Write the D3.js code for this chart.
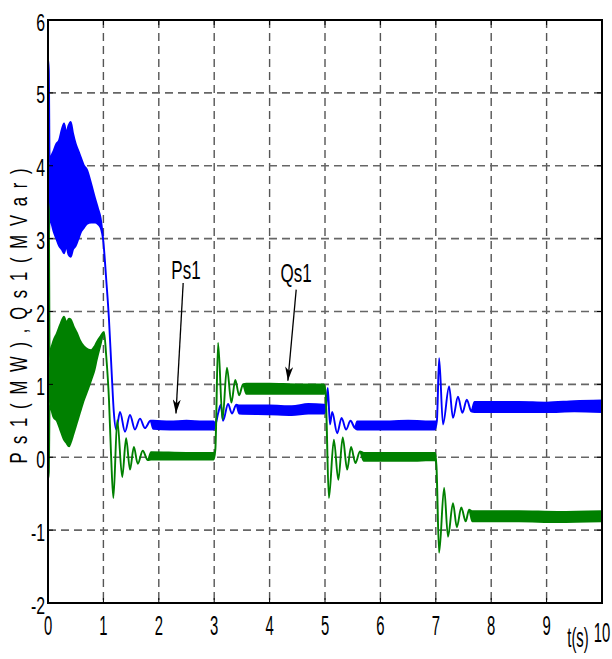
<!DOCTYPE html>
<html>
<head>
<meta charset="utf-8">
<script src="https://cdn.jsdelivr.net/npm/d3@7"></script>
<style>
  body { margin: 0; background: #fff; }
  text { font-family: "Liberation Sans", Arial, sans-serif; fill: #000; }
</style>
</head>
<body>
<script>
(function(){
    //tick values on both axes
    var xTicks = [0, 1, 2, 3, 4, 5, 6, 7, 8, 9, 10];
    var yTicks = [-2, -1, 0, 1, 2, 3, 4, 5, 6];

    //Ps1 trace as [t, low, high] (low == high where it is a thin line)
    var ps1Trace = [
        [0, 3.0, 5.45], [0.015, 3.0, 5.3], [0.03, 3.3, 4.0], [0.05, 3.25, 4.1], [0.1, 3.1, 4.2], [0.15, 3.0, 4.3],
        [0.2, 2.9, 4.35], [0.25, 2.85, 4.5], [0.29, 2.8, 4.58], [0.33, 2.9, 4.45], [0.37, 2.78, 4.55],
        [0.41, 2.75, 4.6], [0.45, 2.85, 4.45], [0.5, 2.9, 4.3], [0.55, 3.0, 4.2], [0.6, 3.1, 4.1],
        [0.65, 3.15, 4.0], [0.7, 3.2, 3.95], [0.78, 3.22, 3.75], [0.85, 3.22, 3.55], [0.9, 3.2, 3.42],
        [0.95, 3.15, 3.28],
        [1.0, 2.95, 2.95], [1.05, 2.45, 2.45], [1.1, 1.9, 1.9], [1.15, 1.15, 1.15], [1.19, 0.6, 0.6],
        [1.23, 0.38, 0.38], [1.3, 0.62, 0.62], [1.39, 0.35, 0.35], [1.48, 0.58, 0.58], [1.57, 0.38, 0.38],
        [1.66, 0.53, 0.53], [1.75, 0.4, 0.4], [1.85, 0.5, 0.5],
        [1.9, 0.39, 0.5], [2.2, 0.38, 0.49], [2.5, 0.38, 0.5], [2.8, 0.38, 0.49], [2.99, 0.38, 0.49],
        [3.02, 0.45, 0.45], [3.07, 0.6, 0.6], [3.12, 0.72, 0.72], [3.16, 0.5, 0.5], [3.25, 0.73, 0.73],
        [3.32, 0.6, 0.6], [3.4, 0.72, 0.72],
        [3.45, 0.6, 0.71], [4.0, 0.59, 0.71], [4.4, 0.58, 0.7], [4.7, 0.6, 0.73], [4.98, 0.6, 0.72],
        [5.02, 0.7, 0.7], [5.05, 0.95, 0.95], [5.09, 0.45, 0.45], [5.13, 0.62, 0.62], [5.22, 0.33, 0.33],
        [5.3, 0.54, 0.54], [5.38, 0.38, 0.38], [5.46, 0.5, 0.5], [5.54, 0.4, 0.4],
        [5.58, 0.38, 0.49], [6.0, 0.38, 0.49], [6.5, 0.38, 0.5], [6.98, 0.38, 0.49],
        [7.02, 0.5, 0.5], [7.06, 1.36, 1.36], [7.13, 0.45, 0.45], [7.24, 0.97, 0.97], [7.31, 0.54, 0.54],
        [7.4, 0.83, 0.83], [7.48, 0.61, 0.61], [7.56, 0.79, 0.79], [7.64, 0.63, 0.63],
        [7.7, 0.62, 0.76], [8.5, 0.62, 0.76], [9.0, 0.62, 0.75], [9.5, 0.63, 0.77], [10, 0.62, 0.78]
    ];

    //Qs1 trace, same layout
    var qs1Trace = [
        [0, -0.3, 3.5], [0.015, -0.2, 3.4], [0.03, 0.75, 1.3], [0.05, 0.69, 1.45], [0.1, 0.55, 1.6], [0.16, 0.5, 1.7],
        [0.22, 0.38, 1.82], [0.29, 0.24, 1.93], [0.33, 0.2, 1.85], [0.38, 0.15, 1.9], [0.41, 0.2, 1.89],
        [0.46, 0.32, 1.8], [0.52, 0.47, 1.71], [0.58, 0.62, 1.6], [0.65, 0.79, 1.52], [0.72, 0.93, 1.48],
        [0.78, 1.06, 1.47], [0.84, 1.2, 1.52], [0.88, 1.34, 1.58], [0.95, 1.55, 1.66],
        [1.01, 1.72, 1.72], [1.05, 1.4, 1.4], [1.1, 0.8, 0.8], [1.14, 0.0, 0.0], [1.18, -0.56, -0.56],
        [1.25, 0.51, 0.51], [1.34, -0.27, -0.27], [1.41, 0.26, 0.26], [1.48, -0.17, -0.17], [1.55, 0.14, 0.14],
        [1.62, -0.09, -0.09], [1.71, 0.09, 0.09], [1.8, -0.04, -0.04],
        [1.86, -0.03, 0.07], [2.5, -0.03, 0.06], [2.99, -0.03, 0.06],
        [3.02, 0.1, 0.1], [3.07, 1.57, 1.57], [3.15, 0.52, 0.52], [3.23, 1.23, 1.23], [3.31, 0.75, 0.75],
        [3.38, 1.06, 1.06], [3.45, 0.85, 0.85], [3.52, 1.0, 1.0],
        [3.58, 0.87, 1.01], [4.0, 0.87, 1.01], [4.5, 0.87, 1.0], [4.98, 0.87, 1.0],
        [5.01, 0.9, 0.9], [5.07, -0.56, -0.56], [5.16, 0.24, 0.24], [5.24, -0.31, -0.31], [5.32, 0.27, 0.27],
        [5.4, -0.17, -0.17], [5.47, 0.14, 0.14], [5.55, -0.08, -0.08], [5.63, 0.08, 0.08],
        [5.7, -0.05, 0.06], [6.5, -0.05, 0.06], [6.99, -0.04, 0.06],
        [7.01, -0.1, -0.1], [7.06, -1.31, -1.31], [7.15, -0.42, -0.42], [7.22, -1.09, -1.09], [7.31, -0.63, -0.63],
        [7.38, -0.96, -0.96], [7.46, -0.69, -0.69], [7.54, -0.88, -0.88], [7.6, -0.72, -0.72],
        [7.66, -0.88, -0.74], [8.5, -0.88, -0.74], [9.2, -0.89, -0.75], [10, -0.88, -0.74]
    ];

    //annotation labels with their arrows, in data units
    var labelNames = ["Ps1", "Qs1"];
    var labelPos = [[2.49, 2.45], [4.48, 2.41]];
    var arrowFrom = [[2.44, 2.39], [4.48, 2.3]];
    var arrowTo = [[2.31, 0.6], [4.33, 1.05]];

    var width = 612, height = 659;
    var left = 48, right = 602, top = 20, bottom = 603;

    var svg = d3.select("body")
        .append("svg")
        .attr("width", width)
        .attr("height", height);

    var x = d3.scaleLinear().domain([0, 10]).range([left, right]);
    var y = d3.scaleLinear().domain([-2, 6]).range([bottom, top]);

    //dashed grid
    svg.selectAll(".vgrid")
        .data(xTicks.slice(1, -1))
        .enter()
        .append("line")
        .attr("x1", function(d){ return x(d); })
        .attr("x2", function(d){ return x(d); })
        .attr("y1", top)
        .attr("y2", bottom)
        .attr("stroke", "#555")
        .attr("stroke-width", 1.4)
        .attr("stroke-dasharray", "8,5");

    svg.selectAll(".hgrid")
        .data(yTicks.slice(1, -1))
        .enter()
        .append("line")
        .attr("x1", left)
        .attr("x2", right)
        .attr("y1", function(d){ return y(d); })
        .attr("y2", function(d){ return y(d); })
        .attr("stroke", "#666")
        .attr("stroke-width", 1.6)
        .attr("stroke-dasharray", "8,5");

    //traces drawn as filled bands with an outline, smoothed through the read points
    var area = d3.area()
        .curve(d3.curveMonotoneX)
        .x(function(d){ return x(d[0]); })
        .y0(function(d){ return y(d[1]); })
        .y1(function(d){ return y(d[2]); });

    svg.append("path")
        .datum(ps1Trace)
        .attr("d", area)
        .attr("fill", "#0000ff")
        .attr("stroke", "#0000ff")
        .attr("stroke-width", 1.9)
        .attr("stroke-linejoin", "round");

    svg.append("path")
        .datum(qs1Trace)
        .attr("d", area)
        .attr("fill", "#008000")
        .attr("stroke", "#008000")
        .attr("stroke-width", 1.9)
        .attr("stroke-linejoin", "round");

    //plot frame
    svg.append("rect")
        .attr("x", left)
        .attr("y", top)
        .attr("width", right - left)
        .attr("height", bottom - top)
        .attr("fill", "none")
        .attr("stroke", "#000")
        .attr("stroke-width", 2);

    //inward ticks on all four sides
    var tickLen = 5;
    xTicks.forEach(function(d){
        svg.append("line").attr("x1", x(d)).attr("x2", x(d)).attr("y1", bottom).attr("y2", bottom - tickLen).attr("stroke", "#000");
        svg.append("line").attr("x1", x(d)).attr("x2", x(d)).attr("y1", top).attr("y2", top + tickLen).attr("stroke", "#000");
    });
    yTicks.forEach(function(d){
        svg.append("line").attr("x1", left).attr("x2", left + tickLen).attr("y1", y(d)).attr("y2", y(d)).attr("stroke", "#000");
        svg.append("line").attr("x1", right).attr("x2", right - tickLen).attr("y1", y(d)).attr("y2", y(d)).attr("stroke", "#000");
    });

    //tick labels, narrow like the original
    svg.selectAll(".ylab")
        .data(yTicks)
        .enter()
        .append("text")
        .attr("transform", function(d){ return "translate(45," + (y(d) + 10.5) + ") scale(0.66,1)"; })
        .attr("text-anchor", "end")
        .style("font-size", "24px")
        .text(function(d){ return d; });

    svg.selectAll(".xlab")
        .data(xTicks)
        .enter()
        .append("text")
        .attr("transform", function(d, i){
            var base = (i == xTicks.length - 1) ? 642 : 635; //last label sits lower, next to t(s)
            return "translate(" + x(d) + "," + base + ") scale(0.55,1)";
        })
        .attr("text-anchor", "middle")
        .style("font-size", "27px")
        .text(function(d){ return d; });

    svg.append("text")
        .attr("transform", "translate(578,647) scale(0.55,1)")
        .attr("text-anchor", "middle")
        .style("font-size", "27px")
        .text("t(s)");

    //y label: narrow glyphs, spread along the axis
    svg.append("text")
        .attr("transform", "translate(27,316) rotate(-90) scale(0.72,1)")
        .attr("text-anchor", "middle")
        .attr("textLength", 410)
        .attr("lengthAdjust", "spacing")
        .style("font-size", "23px")
        .text("P s 1 ( M W ) , Q s 1 ( M V a r )");

    //arrow annotations
    svg.append("defs").append("marker")
        .attr("id", "head")
        .attr("markerUnits", "userSpaceOnUse")
        .attr("markerWidth", 16)
        .attr("markerHeight", 8)
        .attr("refX", 14)
        .attr("refY", 4)
        .attr("orient", "auto")
        .append("path")
        .attr("d", "M0,0 L14,4 L0,8 L4,4 Z")
        .attr("fill", "#000");

    labelNames.forEach(function(name, i){
        svg.append("line")
            .attr("x1", x(arrowFrom[i][0]))
            .attr("y1", y(arrowFrom[i][1]))
            .attr("x2", x(arrowTo[i][0]))
            .attr("y2", y(arrowTo[i][1]))
            .attr("stroke", "#000")
            .attr("stroke-width", 1.3)
            .attr("marker-end", "url(#head)");

        svg.append("text")
            .attr("transform", "translate(" + x(labelPos[i][0]) + "," + y(labelPos[i][1]) + ") scale(0.68,1)")
            .attr("text-anchor", "middle")
            .style("font-size", "25px")
            .text(name);
    });
})();
</script>
</body>
</html>
